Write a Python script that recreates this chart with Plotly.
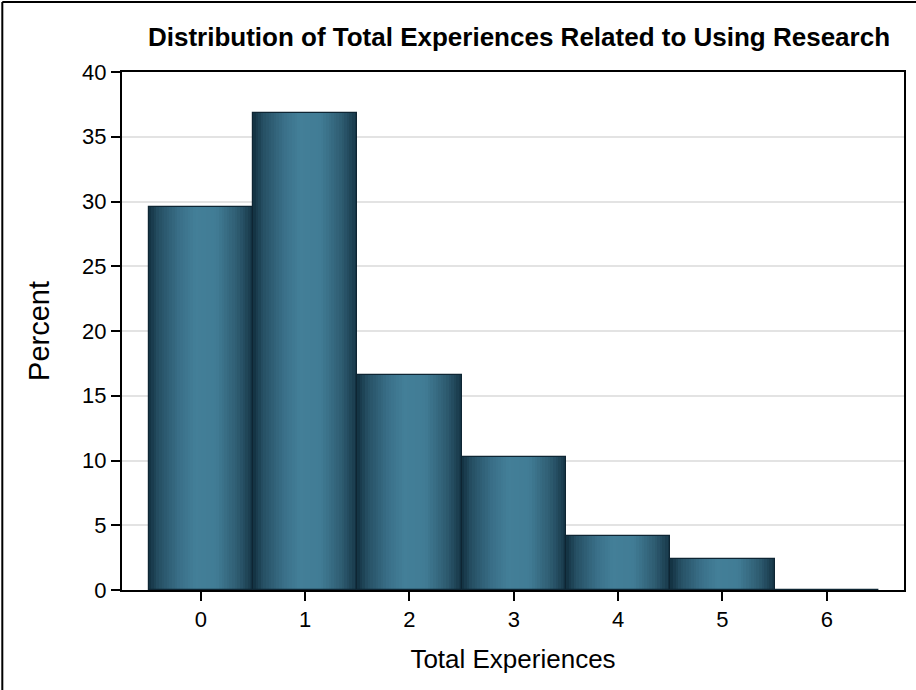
import plotly.graph_objects as go

# Histogram of total experiences (percent of respondents per count)
categories = [0, 1, 2, 3, 4, 5, 6]
percents = [29.6, 36.8, 16.6, 10.3, 4.2, 2.4, 0.0]
y_ticks = [0, 5, 10, 15, 20, 25, 30, 35, 40]

title_text = "Distribution of Total Experiences Related to Using Research"
x_title = "Total Experiences"
y_title = "Percent"

FONT = "Liberation Sans, Arial, sans-serif"

# Horizontal shading across each bar: dark edges, light middle
stops = [
    (0.00, (18, 48, 64)),
    (0.10, (38, 80, 100)),
    (0.30, (58, 112, 137)),
    (0.45, (67, 127, 152)),
    (0.65, (65, 124, 149)),
    (0.85, (46, 92, 113)),
    (1.00, (22, 54, 71)),
]


def shade(t):
    for (t0, c0), (t1, c1) in zip(stops[:-1], stops[1:]):
        if t0 <= t <= t1:
            f = (t - t0) / (t1 - t0) if t1 > t0 else 0
            r, g, b = (round(a + (b_ - a) * f) for a, b_ in zip(c0, c1))
            return f"rgb({r},{g},{b})"
    return "rgb(%d,%d,%d)" % stops[-1][1]


N = 40
fig = go.Figure()
for i in range(N):
    t = (i + 0.5) / N
    w = 1.0 / N
    fig.add_trace(go.Bar(
        x=categories, y=percents,
        width=w + (0.004 if i < N - 1 else 0), offset=-0.5 + i * w,
        marker=dict(color=shade(t), line=dict(width=0)),
        hoverinfo="skip", showlegend=False,
    ))

# Outline for each bin
fig.add_trace(go.Bar(
    x=categories, y=percents, width=1.0,
    marker=dict(color="rgba(0,0,0,0)", line=dict(color="#0e2533", width=1.2)),
    showlegend=False,
))

# Figure border along the top and left edges
L, R, T, B = 122, 10, 72, 100
W, H = 916, 690
pw, ph = W - L - R, H - T - B
bx = (2 - L) / pw
by = 1 + (T - 2) / ph
fig.add_shape(type="line", xref="paper", yref="paper", x0=bx, x1=bx, y0=-0.5, y1=by,
              line=dict(color="black", width=2))
fig.add_shape(type="line", xref="paper", yref="paper", x0=bx, x1=1.5, y0=by, y1=by,
              line=dict(color="black", width=2))

fig.update_layout(
    width=W, height=H,
    margin=dict(l=L, r=R, t=T, b=B),
    paper_bgcolor="white", plot_bgcolor="white",
    barmode="overlay", bargap=0,
    font=dict(family=FONT, color="black"),
    title=dict(text=f"<b>{title_text}</b>", x=(520 - L) / pw, xref="paper", xanchor="center",
               y=1 - 37 / H, yanchor="middle", font=dict(size=26, family=FONT)),
    xaxis=dict(
        range=[-0.755, 6.74], tickmode="array", tickvals=categories,
        ticks="outside", ticklen=9, tickwidth=2, tickcolor="black",
        showline=True, linecolor="black", linewidth=2, mirror=True,
        showgrid=False, zeroline=False,
        tickfont=dict(size=22),
        title=dict(text=x_title, font=dict(size=26), standoff=18),
    ),
    yaxis=dict(
        range=[0, 40], tickmode="array", tickvals=y_ticks,
        ticks="outside", ticklen=9, tickwidth=2, tickcolor="black",
        showline=True, linecolor="black", linewidth=2, mirror=True,
        showgrid=True, gridcolor="#e3e3e3", gridwidth=2, zeroline=False,
        tickfont=dict(size=22),
        title=dict(text=y_title, font=dict(size=29), standoff=24),
    ),
)

fig.write_html("out.html")
